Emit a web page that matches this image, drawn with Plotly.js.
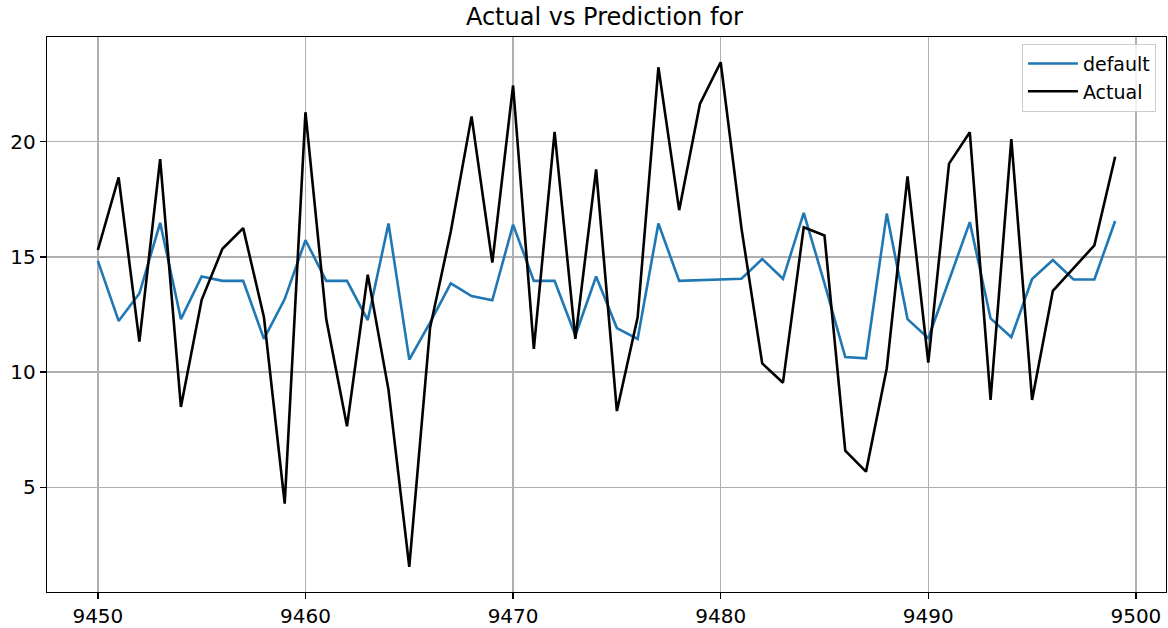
<!DOCTYPE html>
<html>
<head>
<meta charset="utf-8">
<script src="https://cdn.plot.ly/plotly-3.0.1.min.js"></script>
<style>html,body{margin:0;padding:0;background:#fff;}#chart{width:1168px;height:628px;}</style>
</head>
<body>
<div id="chart"></div>
<script>
const xStart = 9450;
const defaultValues = [14.83, 12.22, 13.41, 16.48, 12.30, 14.15, 13.96, 13.96, 11.44, 13.17,
  15.73, 13.96, 13.96, 12.26, 16.45, 10.54, 12.15, 13.85, 13.30, 13.12,
  16.40, 13.96, 13.96, 11.59, 14.15, 11.91, 11.44, 16.45, 13.96, 13.99,
  14.02, 14.05, 14.91, 14.05, 16.91, 13.85, 10.65, 10.60, 16.88, 12.30,
  11.47, 13.99, 16.51, 12.33, 11.51, 14.04, 14.86, 14.02, 14.02, 16.56];
const actualValues = [15.30, 18.45, 11.32, 19.24, 8.49, 13.14, 15.35, 16.25, 12.38, 4.29,
  21.28, 12.30, 7.65, 14.23, 9.23, 1.55, 11.91, 16.10, 21.10, 14.75,
  22.44, 11.01, 20.43, 11.44, 18.80, 8.31, 12.38, 23.23, 17.03, 21.64,
  23.45, 16.25, 10.38, 9.54, 16.28, 15.93, 6.59, 5.68, 10.17, 18.49,
  10.41, 19.05, 20.41, 8.79, 20.11, 8.79, 13.53, 14.51, 15.50, 19.35];
const xValues = actualValues.map((_, i) => xStart + i);
const xTicks = [9450, 9460, 9470, 9480, 9490, 9500];
const yTicks = [5, 10, 15, 20];

const font = 'DejaVu Sans, sans-serif';
const traces = [
  {x: xValues, y: defaultValues, type: 'scatter', mode: 'lines', name: 'default',
   line: {color: '#1f77b4', width: 2.6}},
  {x: xValues, y: actualValues, type: 'scatter', mode: 'lines', name: 'Actual',
   line: {color: '#000000', width: 2.6}}
];
const axisCommon = {
  showline: true, mirror: true, linecolor: '#000', linewidth: 1.3,
  ticks: 'outside', ticklen: 6, tickwidth: 1.3, tickcolor: '#000',
  showgrid: true, gridcolor: '#b0b0b0', gridwidth: 1.4, zeroline: false,
  tickfont: {family: font, size: 20, color: '#000'}
};
const layout = {
  width: 1168, height: 628,
  margin: {l: 47, r: 2, t: 37, b: 36},
  paper_bgcolor: '#fff', plot_bgcolor: '#fff',
  font: {family: font, color: '#000'},
  title: {text: 'Actual vs Prediction for', font: {family: font, size: 24, color: '#000'},
          x: 0.5175, xanchor: 'center', y: 1 - 17/628, yanchor: 'middle', xref: 'container', yref: 'container'},
  xaxis: Object.assign({}, axisCommon, {range: [9447.55, 9501.45], tickvals: xTicks, ticktext: xTicks.map(String)}),
  yaxis: Object.assign({}, axisCommon, {range: [0.455, 24.545], tickvals: yTicks, ticktext: yTicks.map(String)}),
  showlegend: true,
  legend: {x: 0.991, y: 0.988, xanchor: 'right', yanchor: 'top',
           bgcolor: 'rgba(255,255,255,0.8)', bordercolor: '#cccccc', borderwidth: 1,
           itemwidth: 50,
           font: {family: font, size: 19, color: '#000'}, tracegroupgap: 0}
};
Plotly.newPlot('chart', traces, layout, {staticPlot: true, displayModeBar: false});
</script>
</body>
</html>
